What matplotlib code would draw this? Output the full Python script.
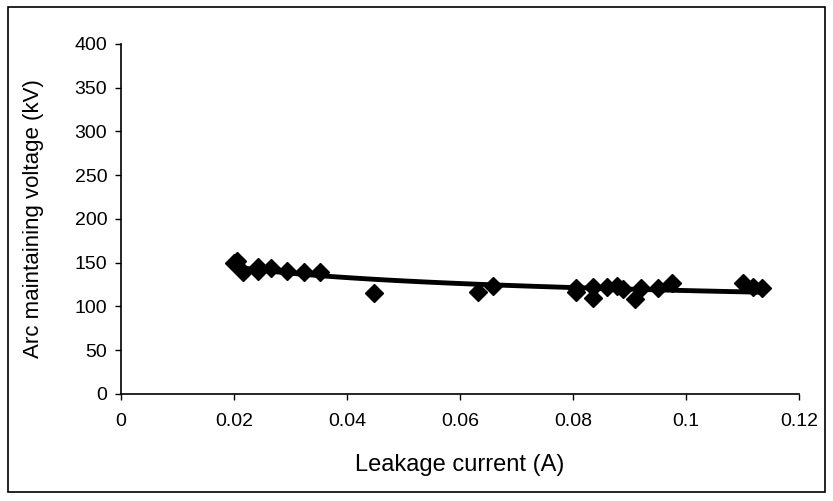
import numpy as np
import matplotlib
matplotlib.use("Agg")
import matplotlib.pyplot as plt
from matplotlib.patches import Rectangle

plt.rcParams['font.family'] = ['Liberation Sans', 'DejaVu Sans']

# Data: leakage current (A) vs arc maintaining voltage (kV)
current = [0.0200, 0.0205, 0.0216, 0.0243, 0.0243, 0.0265, 0.0293, 0.0323, 0.0353,
           0.0448, 0.0632, 0.0659, 0.0806, 0.0806, 0.0835, 0.0836, 0.0860, 0.0877,
           0.0889, 0.0910, 0.0921, 0.0951, 0.0976, 0.1100, 0.1119, 0.1135]
voltage = [150, 152, 139, 145, 140, 144, 141, 139, 139,
           115, 117, 123, 116, 121, 110, 122, 122, 123,
           120, 109, 121, 121, 127, 127, 122, 121]

xticks = [0, 0.02, 0.04, 0.06, 0.08, 0.1, 0.12]
xticklabels = ["0", "0.02", "0.04", "0.06", "0.08", "0.1", "0.12"]
yticks = [0, 50, 100, 150, 200, 250, 300, 350, 400]

fig = plt.figure(figsize=(8.33, 5.01), dpi=100)
ax = fig.add_axes([0.1453, 0.2136, 0.8139, 0.6986])

ax.plot(current, voltage, linestyle='none', marker='D', markersize=9,
        color='black')

# Power trendline (fit from data)
lx = np.log(current)
ly = np.log(voltage)
b, a = np.polyfit(lx, ly, 1)
xt = np.linspace(min(current), max(current), 100)
ax.plot(xt, np.exp(a) * xt ** b, color='black', linewidth=3.5)

ax.set_xlim(0, 0.12)
ax.set_ylim(0, 400)
ax.set_xticks(xticks)
ax.set_xticklabels(xticklabels)
ax.set_yticks(yticks)
ax.tick_params(direction='out', length=4, width=1, labelsize=14, colors='black')
ax.tick_params(axis='x', pad=10)
ax.tick_params(axis='y', pad=6)
for s in ['top', 'right']:
    ax.spines[s].set_visible(False)
for s in ['left', 'bottom']:
    ax.spines[s].set_linewidth(1.2)

ax.set_xlabel("Leakage current (A)", fontsize=17, labelpad=17)
ax.set_ylabel("Arc maintaining voltage (kV)", fontsize=16, labelpad=22)

fig.patches.append(Rectangle((0.010, 0.018), 0.980, 0.968, transform=fig.transFigure,
                             fill=False, edgecolor='black', linewidth=1.2))

fig.savefig("out.png", dpi=100)
